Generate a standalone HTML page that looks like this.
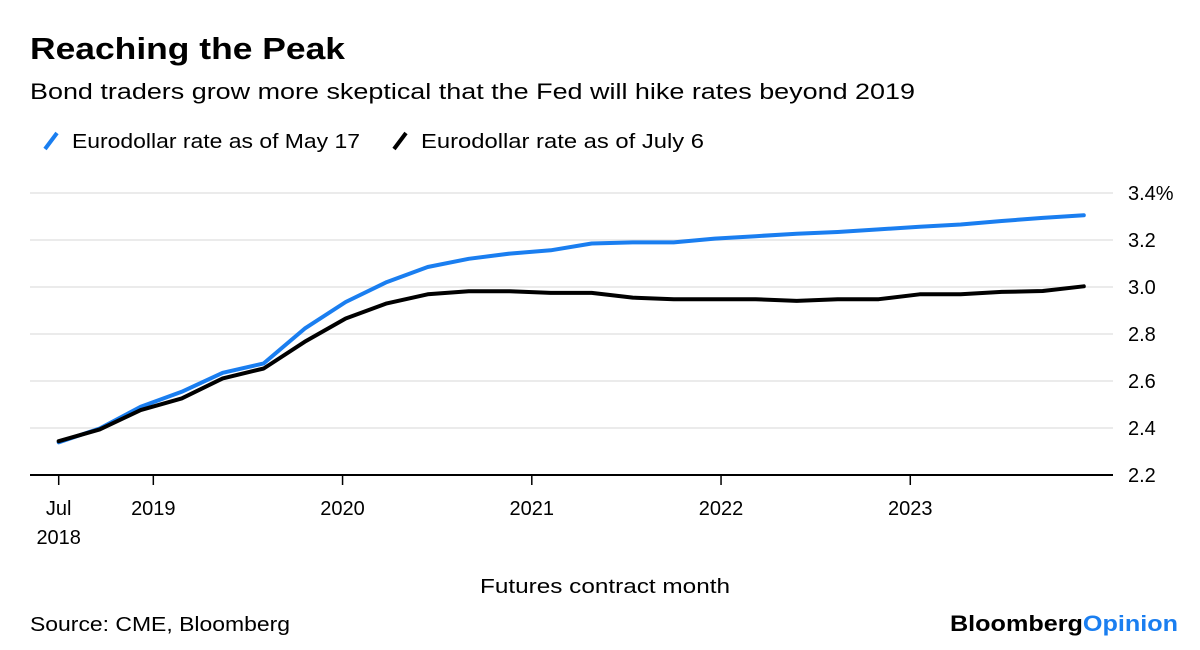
<!DOCTYPE html>
<html><head><meta charset="utf-8"><style>
html,body{margin:0;padding:0;background:#fff;}
svg{display:block;font-family:"Liberation Sans",sans-serif;}
</style></head><body>
<svg id="chart" width="1200" height="650" viewBox="0 0 1200 650">
<text x="30" y="59" font-size="31" font-weight="bold" fill="#000" textLength="315" lengthAdjust="spacingAndGlyphs">Reaching the Peak</text>
<text x="30" y="99" font-size="22" fill="#000" textLength="885" lengthAdjust="spacingAndGlyphs">Bond traders grow more skeptical that the Fed will hike rates beyond 2019</text>
<g>
<line x1="45" y1="149" x2="57" y2="133" stroke="#1a7ef0" stroke-width="4"/>
<text x="72" y="148" font-size="20" textLength="288" lengthAdjust="spacingAndGlyphs">Eurodollar rate as of May 17</text>
<line x1="394" y1="149" x2="406" y2="133" stroke="#000" stroke-width="4"/>
<text x="421" y="148" font-size="20" textLength="283" lengthAdjust="spacingAndGlyphs">Eurodollar rate as of July 6</text>
</g>
<g id="grid"></g>
<g id="yaxis"></g>
<g id="xaxis"></g>
<g id="series"></g>
<text x="605" y="593" font-size="20" text-anchor="middle" textLength="250" lengthAdjust="spacingAndGlyphs">Futures contract month</text>
<text x="30" y="631" font-size="20" textLength="260" lengthAdjust="spacingAndGlyphs">Source: CME, Bloomberg</text>
<text x="1178" y="631" font-size="22" font-weight="bold" text-anchor="end" textLength="228" lengthAdjust="spacingAndGlyphs"><tspan fill="#000">Bloomberg</tspan><tspan fill="#1a7ef0">Opinion</tspan></text>
</svg>
<script>
const yTicks = [2.2, 2.4, 2.6, 2.8, 3.0, 3.2, 3.4];
const yTickLabels = ["2.2", "2.4", "2.6", "2.8", "3.0", "3.2", "3.4%"];
const xTickMonths = [0, 6, 18, 30, 42, 54];
const xTickLabels = ["Jul", "2019", "2020", "2021", "2022", "2023"];
const maySeries = [2.339,2.398,2.49,2.554,2.635,2.675,2.823,2.936,3.021,3.085,3.12,3.142,3.156,3.185,3.19,3.19,3.206,3.216,3.227,3.234,3.245,3.256,3.266,3.281,3.294,3.305];
const julySeries = [2.344,2.394,2.476,2.526,2.611,2.653,2.767,2.866,2.93,2.969,2.982,2.982,2.975,2.975,2.955,2.948,2.948,2.948,2.941,2.948,2.948,2.969,2.969,2.979,2.983,3.003];

const NS = "http://www.w3.org/2000/svg";
const xLeft = 30, xRight = 1113, yTop = 193, yBot = 475;
const yMin = 2.2, yMax = 3.4;
const monthX0 = 58.7, monthW = 15.77;
const lastIndexMonth = 65;
function yScale(v){ return yBot - (v - yMin) / (yMax - yMin) * (yBot - yTop); }
function monthScale(m){ return monthX0 + m * monthW; }
function indexScale(i, n){ return monthScale(i * lastIndexMonth / (n - 1)); }
function mk(tag, attrs){ const e = document.createElementNS(NS, tag); for (const k in attrs) e.setAttribute(k, attrs[k]); return e; }

const grid = document.getElementById('grid');
const yaxis = document.getElementById('yaxis');
yTicks.forEach((t, i) => {
  const y = yScale(t);
  if (i > 0) {
    const l = mk('line', {x1: xLeft, x2: xRight, y1: y, y2: y, stroke: '#ebebeb', 'stroke-width': 2});
    
    
    grid.appendChild(l);
  }
  const tx = mk('text', {x: 1128, y: y + 7, 'font-size': 20, fill: '#000'});
  tx.textContent = yTickLabels[i];
  
  
  yaxis.appendChild(tx);
});

const xaxis = document.getElementById('xaxis');
const base = mk('line', {x1: xLeft, x2: xRight, y1: yBot, y2: yBot, stroke: '#000', 'stroke-width': 2});


xaxis.appendChild(base);
xTickMonths.forEach((m, i) => {
  const x = monthScale(m);
  const tk = mk('line', {x1: x, x2: x, y1: yBot, y2: yBot + 10, stroke: '#000', 'stroke-width': 1.5});
  
  
  xaxis.appendChild(tk);
  const tx = mk('text', {x: x, y: 515, 'font-size': 20, 'text-anchor': 'middle'});
  tx.textContent = xTickLabels[i];
  
  
  xaxis.appendChild(tx);
});
const y2018 = mk('text', {x: monthScale(0), y: 544, 'font-size': 20, 'text-anchor': 'middle'});
y2018.textContent = "2018";


xaxis.appendChild(y2018);

const series = document.getElementById('series');
function drawLine(vals, color, name){
  const pts = vals.map((v, i) => indexScale(i, vals.length).toFixed(1) + ',' + yScale(v).toFixed(1)).join(' ');
  const p = mk('polyline', {points: pts, fill: 'none', stroke: color, 'stroke-width': 4, 'stroke-linejoin': 'round', 'stroke-linecap': 'round'});
  
  
  series.appendChild(p);
}
drawLine(maySeries, '#1a7ef0', 'line-may17');
drawLine(julySeries, '#000', 'line-july6');
</script>
</body></html>
